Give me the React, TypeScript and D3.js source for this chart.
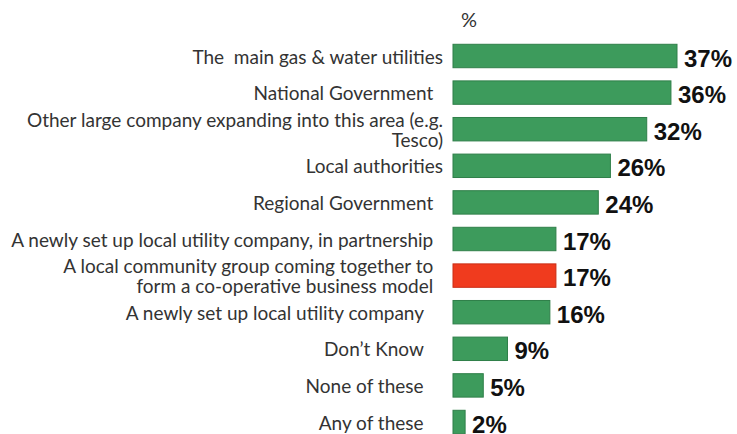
import React from "react";
import * as d3 from "d3";

// ---- data ----
const categories: string[] = [
  "The  main gas & water utilities",
  "National Government  ",
  "Other large company expanding into this area (e.g.\nTesco)",
  "Local authorities",
  "Regional Government  ",
  "A newly set up local utility company, in partnership  ",
  "A local community group coming together to  \nform a co-operative business model  ",
  "A newly set up local utility company    ",
  "Don’t Know    ",
  "None of these    ",
  "Any of these    ",
];
const values: number[] = [37, 36, 32, 26, 24, 17, 17, 16, 9, 5, 2];
const highlightedCategory = categories[6];
const unitLabel = "%";

// ---- styles ----
const W = 737;
const H = 434;
const GREEN = "#3d9b5c";
const GREEN_EDGE = "#2f7f49";
const RED = "#f03b1e";
const RED_EDGE = "#c92e15";
const LABEL_FONT = "Lato, 'Open Sans', sans-serif";
const VALUE_FONT = "'Liberation Sans', Arial, sans-serif";

export default function App() {
  const x = d3.scaleLinear().domain([0, 37]).range([453, 677]);
  const y = d3
    .scaleBand<string>()
    .domain(categories)
    .range([37.7, 440.3])
    .paddingInner(0.36)
    .paddingOuter(0.18);
  const bw = y.bandwidth();
  const labelRight = 443;
  const lineGap = 20;

  return (
    <>
      <style>{`html,body{margin:0;padding:0;background:#fff;}`}</style>
      <svg width={W} height={H} style={{ display: "block" }}>
        <rect x={0} y={0} width={W} height={H} fill="#fff" />
        <text
          x={469}
          y={27}
          textAnchor="middle"
          fontFamily={LABEL_FONT}
          fontSize={20}
          fill="#333"
        >
          {unitLabel}
        </text>
        {categories.map((c, i) => {
          const v = values[i];
          const top = y(c) as number;
          const cy = top + bw / 2;
          const hl = c === highlightedCategory;
          const lines = c.split("\n");
          return (
            <g key={i}>
              <rect
                x={x(0)}
                y={top}
                width={x(v) - x(0)}
                height={bw}
                fill={hl ? RED : GREEN}
                stroke={hl ? RED_EDGE : GREEN_EDGE}
                strokeWidth={1}
              />
              <text
                x={x(v) + 7}
                y={cy + 2}
                dominantBaseline="central"
                fontFamily={VALUE_FONT}
                fontWeight="bold"
                fontSize={24}
                fill="#111"
              >
                {`${v}%`}
              </text>
              {lines.map((ln, j) => (
                <text
                  key={j}
                  x={labelRight}
                  y={cy + (j - (lines.length - 1) / 2) * lineGap}
                  textAnchor="end"
                  dominantBaseline="central"
                  fontFamily={LABEL_FONT}
                  fontSize={19}
                  fill="#333"
                  style={{ whiteSpace: "pre" }}
                >
                  {ln}
                </text>
              ))}
            </g>
          );
        })}
      </svg>
    </>
  );
}
